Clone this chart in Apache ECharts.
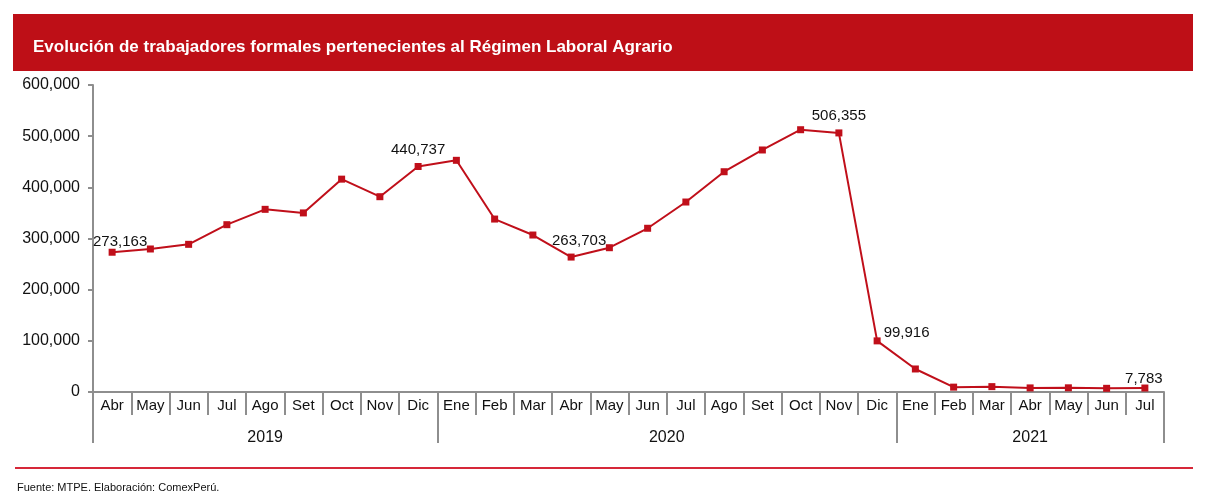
<!DOCTYPE html>
<html>
<head>
<meta charset="utf-8">
<script src="https://cdn.jsdelivr.net/npm/echarts@6/dist/echarts.min.js"></script>
<style>
html,body{margin:0;padding:0;background:#fff;}
#c{width:1207px;height:504px;}
</style>
</head>
<body>
<div id="c"></div>
<script>
const months = ['Abr','May','Jun','Jul','Ago','Set','Oct','Nov','Dic',
  'Ene','Feb','Mar','Abr','May','Jun','Jul','Ago','Set','Oct','Nov','Dic',
  'Ene','Feb','Mar','Abr','May','Jun','Jul'];
const workers = [273163,279500,288600,327000,357000,350000,416000,381700,440737,
  452800,338000,306800,263703,282000,320000,371300,430500,473000,512600,506355,99916,
  45000,9500,10500,8000,8200,7200,7783];
const years = ['2019','2020','2021'];
const yearSpans = [9,12,7];
const labeledIdx = [0,8,12,19,20,27];
const yTicks = [0,100000,200000,300000,400000,500000,600000];

const FONT = 'Liberation Sans, Arial, sans-serif';
const RED = '#C00F1A';
const GREY = '#8E8E8E';

// year boundaries and centres in category units
const bounds = [0];
yearSpans.forEach(s => bounds.push(bounds[bounds.length-1] + s));
const centres = yearSpans.map((s,i) => bounds[i] + s/2);

const labelPos = {
  0:{position:'top',offset:[8,7]},
  8:{position:'top'},
  12:{position:'top',offset:[8,1]},
  19:{position:'top',offset:[0,0]},
  20:{position:'right',offset:[-3,-8]},
  27:{position:'top',offset:[-1,8]}
};

const data = workers.map((v,i) => {
  const o = {value: v};
  if (labeledIdx.includes(i)) {
    o.label = Object.assign({show:true, formatter: p => p.value.toLocaleString('en-US'),
      color:'#111', fontSize:15, fontFamily:FONT, distance:6}, labelPos[i]);
  }
  return o;
});

const chart = echarts.init(document.getElementById('c'), null, {renderer:'canvas'});
chart.setOption({
  animation:false,
  backgroundColor:'#fff',
  title:[{
    text:'Evolución de trabajadores formales pertenecientes al Régimen Laboral Agrario',
    left:28, top:34,
    textStyle:{color:'#fff', fontSize:17, fontWeight:'bold', fontFamily:FONT}
  },{
    text:'Fuente: MTPE. Elaboración: ComexPerú.',
    left:12, top:477,
    textStyle:{color:'#111', fontSize:11, fontWeight:'normal', fontFamily:FONT}
  }],
  graphic:[
    {type:'rect', left:13, top:14, shape:{width:1180, height:57}, style:{fill:'#BE0F17'}, z:-1},
    {type:'rect', left:15, top:467, shape:{width:1178, height:2}, style:{fill:'#D62839'}, z:-1}
  ],
  grid:{left:93, right:43, top:85, bottom:112, containLabel:false},
  xAxis:[{
    type:'category', data:months, boundaryGap:true, position:'bottom',
    axisLine:{lineStyle:{color:GREY, width:2}},
    axisTick:{show:true, interval:0, length:23, lineStyle:{color:GREY, width:2}},
    axisLabel:{interval:0, color:'#111', fontSize:15, fontFamily:FONT, margin:6}
  },{
    type:'value', min:0, max:bounds[bounds.length-1], position:'bottom',
    axisLine:{show:false},
    splitLine:{show:false},
    axisTick:{show:true, customValues:bounds, length:51, lineStyle:{color:GREY, width:2}},
    axisLabel:{show:true, customValues:centres, color:'#111', fontSize:16, fontFamily:FONT, margin:38,
      formatter: v => { const i = centres.indexOf(v); return i >= 0 ? years[i] : ''; }}
  }],
  yAxis:{
    type:'value', min:0, max:600000, interval:100000,
    axisLine:{show:true, lineStyle:{color:GREY, width:2}},
    axisTick:{show:true, length:5, lineStyle:{color:GREY, width:2}},
    splitLine:{show:false},
    axisLabel:{color:'#111', fontSize:16, fontFamily:FONT, margin:13,
      formatter: v => v.toLocaleString('en-US')}
  },
  series:[{
    type:'line', data:data, xAxisIndex:0,
    symbol:'rect', symbolSize:7,
    lineStyle:{color:RED, width:2},
    itemStyle:{color:RED},
    label:{show:false}
  }]
});
</script>
</body>
</html>
